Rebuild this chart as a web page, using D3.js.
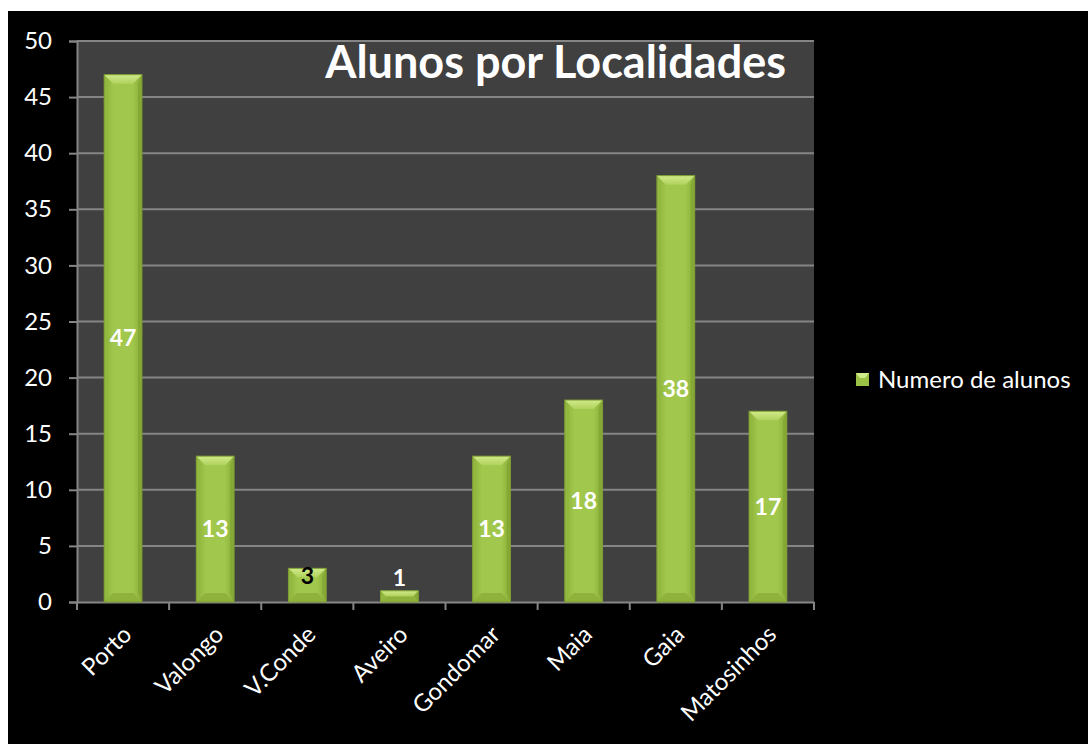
<!DOCTYPE html>
<html>
<head>
<meta charset="utf-8">
<script src="https://cdn.jsdelivr.net/npm/d3@7"></script>
<style>
  html, body { margin: 0; padding: 0; background: #fff; }
  svg { display: block; }
</style>
</head>
<body>
<svg id="chart"></svg>
<script>
const categories = ["Porto", "Valongo", "V.Conde", "Aveiro", "Gondomar", "Maia", "Gaia", "Matosinhos"];
const values = [47, 13, 3, 1, 13, 18, 38, 17];
const yTicks = [0, 5, 10, 15, 20, 25, 30, 35, 40, 45, 50];
const seriesName = "Numero de alunos";
const title = "Alunos por Localidades";

const width = 1088;
const height = 744;
const font = "Lato, 'Open Sans', sans-serif";

const svg = d3.select("#chart").attr("width", width).attr("height", height);

// outer black panel
svg.append("rect")
  .attr("x", 8).attr("y", 11)
  .attr("width", width - 8).attr("height", height - 11)
  .attr("fill", "#000");

const plot = { left: 77, right: 814, top: 41, bottom: 602 };

const x = d3.scaleBand()
  .domain(categories)
  .range([plot.left, plot.right])
  .paddingInner(0.59)
  .paddingOuter(0.295);

const xTickScale = d3.scaleBand().domain(categories).range([plot.left, plot.right]);

const y = d3.scaleLinear().domain([0, 50]).range([plot.bottom, plot.top]);

const defs = svg.append("defs");
const body = defs.append("linearGradient").attr("id", "barBody").attr("x1", 0).attr("x2", 1);
body.append("stop").attr("offset", "0%").attr("stop-color", "#8db23b");
body.append("stop").attr("offset", "25%").attr("stop-color", "#a1c74c");
body.append("stop").attr("offset", "75%").attr("stop-color", "#a1c74c");
body.append("stop").attr("offset", "100%").attr("stop-color", "#8aae39");

const topG = defs.append("linearGradient").attr("id", "barTop").attr("x1", 0).attr("y1", 0).attr("x2", 0).attr("y2", 1);
topG.append("stop").attr("offset", "0%").attr("stop-color", "#d0ea8a");
topG.append("stop").attr("offset", "100%").attr("stop-color", "#b0d25e");

// plot area
svg.append("rect")
  .attr("x", plot.left).attr("y", plot.top)
  .attr("width", plot.right - plot.left).attr("height", plot.bottom - plot.top)
  .attr("fill", "#404040");

// gridlines
svg.append("g")
  .selectAll("line")
  .data(yTicks.filter(d => d > 0))
  .join("line")
  .attr("x1", plot.left).attr("x2", plot.right)
  .attr("y1", d => y(d)).attr("y2", d => y(d))
  .attr("stroke", "#858585").attr("stroke-width", 2);

// y axis
const yAxis = svg.append("g")
  .attr("transform", `translate(${plot.left},0)`)
  .call(d3.axisLeft(y).tickValues(yTicks).tickSize(8).tickPadding(17));
yAxis.select(".domain").attr("stroke", "#858585").attr("stroke-width", 2);
yAxis.selectAll(".tick line").attr("stroke", "#858585").attr("stroke-width", 2);
yAxis.selectAll(".tick text")
  .attr("fill", "#fff").attr("font-size", "24px").attr("font-family", font);

// x axis
const xAxis = svg.append("g")
  .attr("transform", `translate(0,${plot.bottom})`)
  .call(d3.axisBottom(xTickScale).tickSize(0).tickSizeOuter(0));
xAxis.select(".domain").attr("stroke", "#858585").attr("stroke-width", 2);
xAxis.selectAll(".tick text")
  .attr("fill", "#fff").attr("font-size", "24px").attr("font-family", font)
  .attr("text-anchor", "end")
  .attr("dy", 0).attr("y", 0)
  .attr("transform", "translate(10,34) rotate(-45)");

// x tick marks at band boundaries
svg.append("g")
  .selectAll("line")
  .data(categories.map(c => xTickScale(c)).concat([plot.right]))
  .join("line")
  .attr("x1", d => d).attr("x2", d => d)
  .attr("y1", plot.bottom).attr("y2", plot.bottom + 8)
  .attr("stroke", "#858585").attr("stroke-width", 2);

// bars
const bars = svg.append("g")
  .selectAll("g")
  .data(categories.map((c, i) => ({ c, v: values[i] })))
  .join("g");

bars.each(function (d) {
  const g = d3.select(this);
  const x0 = x(d.c), w = x.bandwidth();
  const y0 = y(d.v), h = plot.bottom - y0;
  const b = Math.min(9, h / 2, w / 2);
  g.append("rect").attr("x", x0).attr("y", y0).attr("width", w).attr("height", h)
    .attr("fill", "url(#barBody)");
  // left & right bevels
  g.append("path")
    .attr("d", `M${x0},${y0}L${x0 + 4},${y0 + b}L${x0 + 4},${y0 + h - b}L${x0},${y0 + h}Z`)
    .attr("fill", "#93b840");
  g.append("path")
    .attr("d", `M${x0 + w},${y0}L${x0 + w - 4},${y0 + b}L${x0 + w - 4},${y0 + h - b}L${x0 + w},${y0 + h}Z`)
    .attr("fill", "#86a936");
  // top bevel
  g.append("path")
    .attr("d", `M${x0},${y0}L${x0 + w},${y0}L${x0 + w - b},${y0 + b}L${x0 + b},${y0 + b}Z`)
    .attr("fill", "url(#barTop)");
  // bottom bevel
  g.append("path")
    .attr("d", `M${x0},${y0 + h}L${x0 + w},${y0 + h}L${x0 + w - b},${y0 + h - b}L${x0 + b},${y0 + h - b}Z`)
    .attr("fill", "#8fb23c");
  g.append("rect").attr("x", x0).attr("y", y0).attr("width", w).attr("height", h)
    .attr("fill", "none").attr("stroke", "#7d9d33").attr("stroke-width", 1);
});

// data labels
bars.append("text")
  .attr("x", d => x(d.c) + x.bandwidth() / 2)
  .attr("y", d => {
    const mid = (y(d.v) + plot.bottom) / 2;
    if (d.v === 1) return y(d.v) - 13;
    return Math.min(mid, plot.bottom - 26);
  })
  .attr("dy", "0.35em")
  .attr("text-anchor", "middle")
  .attr("font-family", font)
  .attr("font-weight", "bold")
  .attr("font-size", "23px")
  .attr("fill", d => d.v === 3 ? "#000" : "#fff")
  .text(d => d.v);

// title
svg.append("text")
  .attr("x", 786).attr("y", 78)
  .attr("text-anchor", "end")
  .attr("font-family", font)
  .attr("font-weight", "bold")
  .attr("font-size", "45px")
  .attr("fill", "#fff")
  .text(title);

// legend
const legend = svg.append("g").attr("transform", "translate(856,373)");
legend.append("rect").attr("width", 13).attr("height", 13).attr("fill", "#9bc145");
legend.append("path").attr("d", "M0,0L13,0L9,5L4,5Z").attr("fill", "#d0ea8a");
legend.append("text")
  .attr("x", 22).attr("y", 7).attr("dy", "0.35em")
  .attr("font-family", font).attr("font-size", "24px").attr("fill", "#fff")
  .text(seriesName);
</script>
</body>
</html>
